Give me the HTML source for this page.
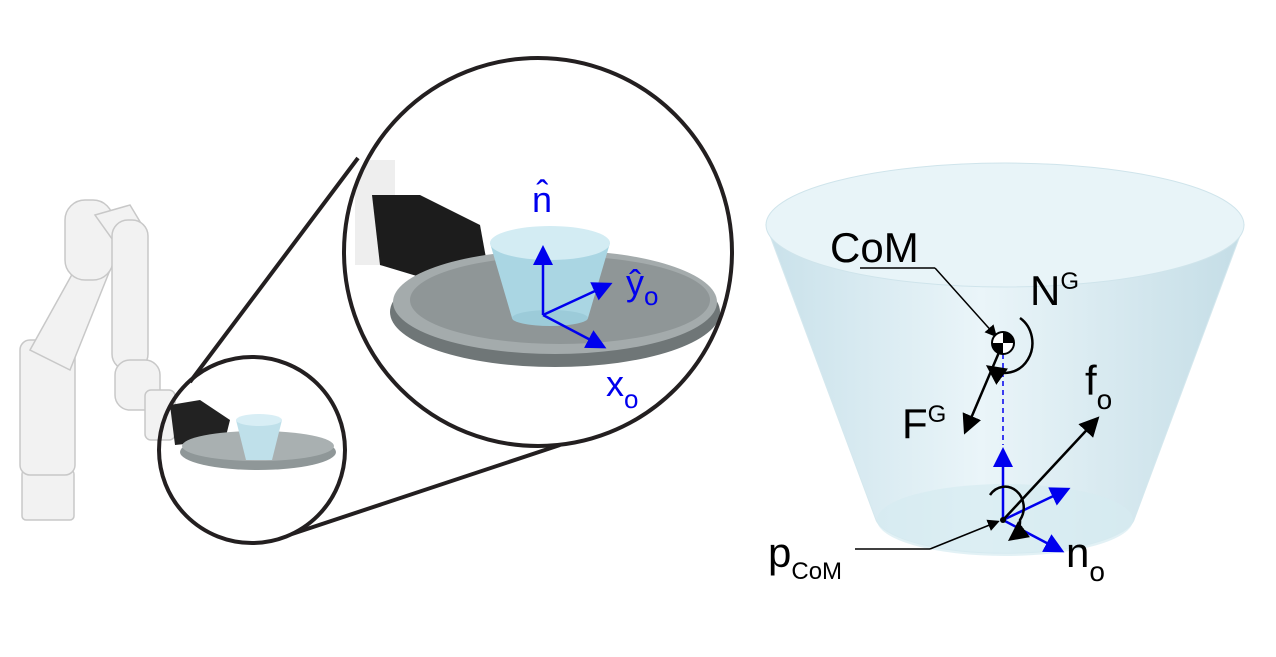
<!DOCTYPE html>
<html><head><meta charset="utf-8"><style>
html,body{margin:0;padding:0;background:#fff;}
svg{display:block;font-family:"Liberation Sans",sans-serif;}
</style></head><body>
<svg width="1276" height="657" viewBox="0 0 1276 657">
<defs>
<linearGradient id="cupg" x1="0" x2="1" y1="0" y2="0">
<stop offset="0" stop-color="#c9e1ea"/><stop offset="0.45" stop-color="#eaf5f9"/><stop offset="1" stop-color="#c4dde6"/>
</linearGradient>
<marker id="ab" markerWidth="8" markerHeight="8" refX="6" refY="4" orient="auto"><path d="M0,0 L8,4 L0,8z" fill="#0000ee"/></marker>
<marker id="ak" markerWidth="8" markerHeight="8" refX="6" refY="4" orient="auto"><path d="M0,0 L8,4 L0,8z" fill="#000"/></marker>
</defs>
<!-- robot arm -->
<g fill="#f2f2f2" stroke="#c8c8c8" stroke-width="1.5">
<rect x="22" y="470" width="52" height="50" rx="4"/>
<rect x="20" y="340" width="55" height="135" rx="10"/>
<path d="M30,350 L80,260 L110,270 L70,370z"/>
<rect x="65" y="200" width="48" height="80" rx="20"/>
<path d="M95,215 L130,205 L145,230 L120,250z"/>
<rect x="112" y="220" width="36" height="150" rx="16"/>
<rect x="115" y="360" width="45" height="50" rx="15"/>
<rect x="145" y="390" width="30" height="50" rx="6"/>
</g>
<path d="M170,405 L200,400 L230,420 L225,440 L175,445z" fill="#222"/>
<!-- small circle scene -->
<ellipse cx="258" cy="452" rx="78" ry="18" fill="#8f9798"/>
<ellipse cx="258" cy="446" rx="76" ry="15" fill="#a9b0b1"/>
<path d="M236,420 L282,420 L272,460 L246,460z" fill="#bfe0ea"/>
<ellipse cx="259" cy="420" rx="23" ry="6" fill="#d8eef5"/>
<circle cx="252" cy="450" r="93" fill="none" stroke="#231f20" stroke-width="4"/>
<line x1="190" y1="382" x2="358" y2="158" stroke="#231f20" stroke-width="4"/>
<line x1="292" y1="534" x2="560" y2="445" stroke="#231f20" stroke-width="4"/>
<!-- big circle scene -->
<clipPath id="bc"><circle cx="538" cy="252" r="194"/></clipPath>
<g clip-path="url(#bc)">
<rect x="355" y="160" width="40" height="105" fill="#eee"/>
<path d="M372,195 L420,195 L480,225 L490,280 L430,280 L380,265z" fill="#1c1c1c"/>
<ellipse cx="555" cy="312" rx="165" ry="55" fill="#6f7677"/>
<ellipse cx="555" cy="302" rx="162" ry="52" fill="#a4abac"/>
<ellipse cx="560" cy="300" rx="150" ry="44" fill="#8f9697"/>
<path d="M490,243 L610,243 L588,318 L512,318z" fill="#aad6e3"/>
<ellipse cx="550" cy="243" rx="60" ry="17" fill="#d3ecf3"/>
<ellipse cx="550" cy="318" rx="38" ry="8" fill="#9ccbd9"/>
</g>
<circle cx="538" cy="252" r="194" fill="none" stroke="#231f20" stroke-width="4"/>
<g stroke="#0000ee" stroke-width="2.5">
<line x1="543" y1="315" x2="543" y2="250" marker-end="url(#ab)"/>
<line x1="543" y1="315" x2="608" y2="285" marker-end="url(#ab)"/>
<line x1="543" y1="315" x2="602" y2="346" marker-end="url(#ab)"/>
</g>
<g fill="#0000ee" font-size="36">
<text x="532" y="212">n̂</text>
<text x="626" y="295">ŷ<tspan font-size="26" dy="10">o</tspan></text>
<text x="606" y="396">x<tspan font-size="26" dy="12">o</tspan></text>
</g>
<!-- cup right -->
<g>
<path d="M766,225 L876,520 A130,38 0 0 0 1134,520 L1244,225z" fill="url(#cupg)" stroke="#d5e8ee"/>
<ellipse cx="1005" cy="225" rx="239" ry="62" fill="#e8f4f8" stroke="#cfe4eb"/>
<ellipse cx="1005" cy="520" rx="128" ry="36" fill="#d5ebf1" opacity="0.7"/>
</g>
<line x1="1003" y1="345" x2="1003" y2="445" stroke="#0000ee" stroke-width="1.5" stroke-dasharray="5,4"/>
<g stroke="#0000ee" stroke-width="2.5">
<line x1="1003" y1="520" x2="1003" y2="452" marker-end="url(#ab)"/>
<line x1="1003" y1="520" x2="1066" y2="490" marker-end="url(#ab)"/>
<line x1="1003" y1="520" x2="1060" y2="550" marker-end="url(#ab)"/>
</g>
<g stroke="#000" stroke-width="2.5" fill="none">
<line x1="1003" y1="520" x2="1096" y2="420" marker-end="url(#ak)"/>
<line x1="1000" y1="350" x2="966" y2="430" marker-end="url(#ak)"/>
<path d="M1020,318 A22,24 0 1 1 990,368" marker-end="url(#ak)"/>
<path d="M990,495 A18,20 0 0 1 1020,520 A18,20 0 0 1 1012,538" marker-end="url(#ak)"/>
<line x1="860" y1="268" x2="935" y2="268" stroke-width="1.5"/>
<line x1="935" y1="268" x2="995" y2="335" stroke-width="1.5" marker-end="url(#ak)"/>
<line x1="855" y1="549" x2="930" y2="549" stroke-width="1.5"/>
<line x1="930" y1="549" x2="997" y2="522" stroke-width="1.5" marker-end="url(#ak)"/>
</g>
<circle cx="1003" cy="343" r="11" fill="#fff" stroke="#000" stroke-width="2"/>
<path d="M1003,343 L1003,332 A11,11 0 0 1 1014,343z M1003,343 L1003,354 A11,11 0 0 1 992,343z" fill="#000"/>
<circle cx="1003" cy="520" r="3" fill="#000"/>
<g fill="#000" font-size="42">
<text x="830" y="262">CoM</text>
<text x="1030" y="305">N<tspan font-size="24" dy="-16">G</tspan></text>
<text x="902" y="438">F<tspan font-size="24" dy="-16">G</tspan></text>
<text x="1085" y="395">f<tspan font-size="28" dy="14">o</tspan></text>
<text x="768" y="567">p<tspan font-size="24" dy="12">CoM</tspan></text>
<text x="1066" y="567">n<tspan font-size="28" dy="14">o</tspan></text>
</g>
</svg>
</body></html>
